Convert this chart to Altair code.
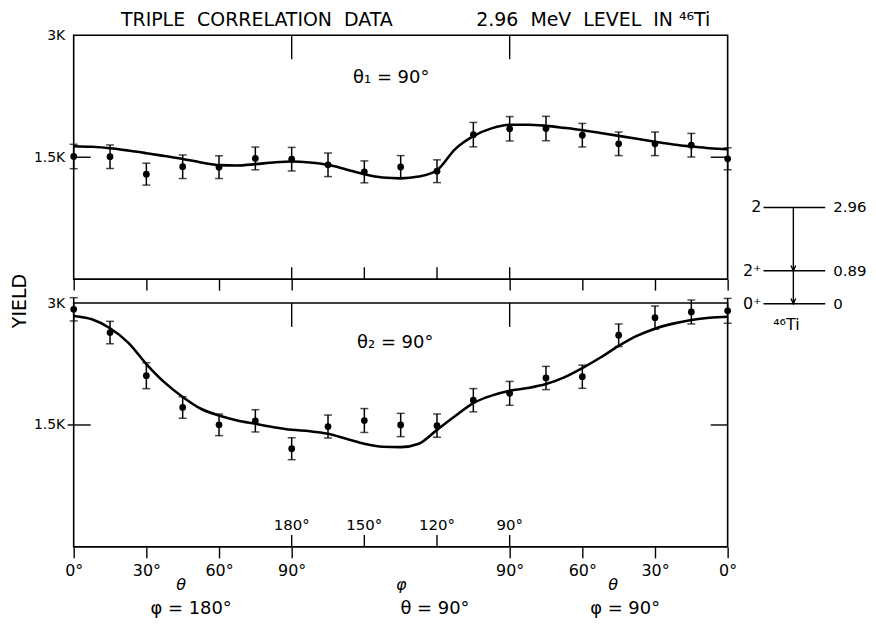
import altair as alt
import pandas as pd

FONT = "DejaVu Sans"

# ---------------- data ----------------
angles = [0, 15, 30, 45, 60, 75, 90, 105, 120, 135, 150, 165, 180, 195, 210, 225, 240, 255, 270]
top_yield = [1509, 1506, 1292, 1383, 1378, 1485, 1476, 1407, 1320, 1380, 1328, 1778, 1850, 1853, 1771, 1665, 1665, 1648, 1481]
top_err = [150, 145, 135, 145, 140, 140, 145, 145, 135, 140, 140, 150, 150, 150, 145, 145, 145, 145, 135]
bot_yield = [2923, 2637, 2106, 1716, 1502, 1551, 1208, 1481, 1555, 1500, 1492, 1805, 1889, 2078, 2094, 2604, 2820, 2890, 2904]
bot_err = [143, 138, 159, 133, 133, 137, 135, 141, 147, 143, 143, 143, 147, 143, 143, 139, 143, 147, 153]

curve_x = [0, 7.5, 15, 22.5, 30, 37.5, 45, 52.5, 60, 67.5, 75, 82.5, 90, 97.5, 105, 112.5,
           120, 127.5, 135, 142.5, 150, 157.5, 165, 172.5, 180, 187.5, 195, 202.5, 210,
           217.5, 225, 232.5, 240, 247.5, 255, 262.5, 270]
top_curve = [1636, 1628, 1611, 1583, 1550, 1515, 1479, 1436, 1403, 1399, 1415, 1436, 1448, 1436,
             1407, 1350, 1290, 1250, 1240, 1262, 1340, 1600, 1760, 1855, 1900, 1900, 1886, 1861,
             1833, 1798, 1763, 1727, 1690, 1656, 1632, 1611, 1599]
bot_curve = [2841, 2800, 2690, 2514, 2250, 2024, 1845, 1700, 1616, 1555, 1514, 1473, 1441, 1424,
             1392, 1331, 1270, 1232, 1228, 1270, 1440, 1610, 1770, 1861, 1922, 1955, 2004, 2086,
             2200, 2330, 2473, 2596, 2685, 2747, 2792, 2820, 2832]

theta_ticks = [0, 30, 60, 90, 180, 210, 240, 270]
phi_ticks = [90, 120, 150, 180]
phi_labels = ["180°", "150°", "120°", "90°"]
long_ticks = [90, 180]
yield_ticks = [1500, 3000]

level_spins = ["2", "2⁺", "0⁺"]
level_energies = ["2.96", "0.89", "0"]
nucleus = "⁴⁶Ti"

title_left = "TRIPLE\u00a0 CORRELATION\u00a0 DATA"
title_right = "2.96\u00a0 MeV\u00a0 LEVEL\u00a0 IN " + nucleus

# ---------------- layout ----------------
W, H = 657, 245
X_DOM = [0, 270]
Y_DOM = [0, 3000]
PX_X = (X_DOM[1] - X_DOM[0]) / W
PX_Y = (Y_DOM[1] - Y_DOM[0]) / H
LEFT, TOP_B, BOT_B = 73, 278, 547


def cx(px):
    return (px - LEFT) * PX_X


def yt(py):
    return (TOP_B - py) * PX_Y


def yb(py):
    return (BOT_B - py) * PX_Y


xs = alt.Scale(domain=X_DOM, nice=False, zero=False)
ys = alt.Scale(domain=Y_DOM, nice=False, zero=False)

Y_AXIS = alt.Axis(values=yield_ticks, ticks=False, domain=False, grid=False, title=None,
                  labelExpr="datum.value == 3000 ? '3K' : '1.5K'", labelPadding=9)


def make_x_axis(with_labels):
    kw = dict(values=theta_ticks, tickSize=11, tickWidth=1.4, tickColor="black",
              domain=False, grid=False, title=None)
    if with_labels:
        kw.update(labels=True, labelFlush=False, labelPadding=5,
                  labelExpr="(datum.value <= 90 ? datum.value : 270 - datum.value) + '°'")
    else:
        kw.update(labels=False)
    return alt.Axis(**kw)


def panel(yields, errs, curve, bottom, extra):
    ax = make_x_axis(bottom)

    def X(f):
        return alt.X(f, type="quantitative", scale=xs, axis=ax)

    def Y(f):
        return alt.Y(f, type="quantitative", scale=ys, axis=Y_AXIS)

    pts = pd.DataFrame({"x": angles, "y": yields,
                        "lo": [v - e for v, e in zip(yields, errs)],
                        "hi": [v + e for v, e in zip(yields, errs)]})
    crv = pd.DataFrame({"x": curve_x, "y": curve})

    layers = []
    layers.append(alt.Chart(crv).mark_line(color="black", strokeWidth=2.6, interpolate="monotone")
                  .encode(x=X("x"), y=Y("y")))
    layers.append(alt.Chart(pts).mark_rule(color="black", strokeWidth=1.5)
                  .encode(x=X("x"), y=Y("lo"), y2="hi"))
    for f in ["hi", "lo"]:
        layers.append(alt.Chart(pts).mark_tick(color="black", thickness=1.5, size=8, orient="horizontal")
                      .encode(x=X("x"), y=Y(f)))
    layers.append(alt.Chart(pts).mark_point(filled=True, color="black", size=46, opacity=1)
                  .encode(x=X("x"), y=Y("y")))

    # inward ticks at the phi positions (bottom edge) and long ticks at the top edge
    inner = pd.DataFrame({"x": phi_ticks, "a": [0] * len(phi_ticks), "b": [12 * PX_Y] * len(phi_ticks)})
    layers.append(alt.Chart(inner).mark_rule(color="black", strokeWidth=1.4)
                  .encode(x=X("x"), y=Y("a"), y2="b"))
    longt = pd.DataFrame({"x": long_ticks, "a": [Y_DOM[1]] * 2, "b": [Y_DOM[1] - 24 * PX_Y] * 2})
    layers.append(alt.Chart(longt).mark_rule(color="black", strokeWidth=1.4)
                  .encode(x=X("x"), y=Y("a"), y2="b"))
    # inward ticks at 1.5K on both sides
    yt_df = pd.DataFrame({"x": [-2.5 if bottom else 0, 263], "x2": [7, 270], "y": [1500, 1500]})
    layers.append(alt.Chart(yt_df).mark_rule(color="black", strokeWidth=1.4)
                  .encode(x=X("x"), x2="x2", y=Y("y")))

    def text_layer(df, size, **kw):
        return alt.Chart(df).mark_text(font=FONT, fontSize=size, color="black", **kw).encode(
            x=X("x"), y=Y("y"), text="t:N")

    for df, size, kw in extra:
        layers.append(text_layer(df, size, **kw))
    return layers


# ---------------- top panel ----------------
lvl_py = [206, 269.5, 302.7]

top_text = [
    (pd.DataFrame({"x": [cx(257), cx(595)], "y": [yt(18), yt(18)], "t": [title_left, title_right]}), 19, {}),
    (pd.DataFrame({"x": [cx(392)], "y": [yt(76)], "t": ["θ₁ = 90°"]}), 18, {}),
    (pd.DataFrame({"x": [cx(764)] * 3, "y": [yt(p) for p in lvl_py], "t": level_spins}), 16, {"align": "right"}),
    (pd.DataFrame({"x": [cx(836)] * 3, "y": [yt(p) for p in lvl_py], "t": level_energies}), 15, {"align": "left"}),
    (pd.DataFrame({"x": [cx(789)], "y": [yt(324)], "t": [nucleus]}), 16, {}),
]

top_layers = panel(top_yield, top_err, top_curve, False, top_text)

TX = alt.X("x", type="quantitative", scale=xs, axis=make_x_axis(False))
TY = alt.Y("y", type="quantitative", scale=ys, axis=Y_AXIS)

lvl = pd.DataFrame({"x": [cx(766)] * 3, "x2": [cx(828)] * 3, "y": [yt(p) for p in lvl_py]})
top_layers.append(alt.Chart(lvl).mark_rule(color="black", strokeWidth=1.4).encode(x=TX, x2="x2", y=TY))
arrow = pd.DataFrame({"x": [cx(796)] * 2, "y": [yt(lvl_py[0]), yt(lvl_py[1])],
                      "y2": [yt(lvl_py[1]), yt(lvl_py[2])]})
top_layers.append(alt.Chart(arrow).mark_rule(color="black", strokeWidth=1.4).encode(x=TX, y=TY, y2="y2"))
heads = pd.DataFrame({"x": [cx(796)] * 2, "y": [yt(lvl_py[1]), yt(lvl_py[2])]})
top_layers.append(alt.Chart(heads).mark_point(
    shape="M-0.45,-1L0,0L0.45,-1", filled=False, color="black", strokeWidth=1.4, size=110, opacity=1)
    .encode(x=TX, y=TY))

top = alt.layer(*top_layers).properties(width=W, height=H)

# ---------------- bottom panel ----------------
bot_text = [
    (pd.DataFrame({"x": [cx(396)], "y": [yb(342)], "t": ["θ₂ = 90°"]}), 18, {}),
    (pd.DataFrame({"x": phi_ticks, "y": [yb(525)] * 4, "t": phi_labels}), 15, {}),
    (pd.DataFrame({"x": [cx(181), cx(402), cx(615)], "y": [yb(585)] * 3, "t": ["θ", "φ", "θ"]}), 16,
     {"fontStyle": "italic"}),
    (pd.DataFrame({"x": [cx(191), cx(436), cx(627)], "y": [yb(609)] * 3,
                   "t": ["φ = 180°", "θ = 90°", "φ = 90°"]}), 18, {}),
    (pd.DataFrame({"x": [cx(19.5)], "y": [yb(300)], "t": ["YIELD"]}), 19, {"angle": 270}),
]

bottom = alt.layer(*panel(bot_yield, bot_err, bot_curve, True, bot_text)).properties(width=W, height=H)

chart = (
    alt.vconcat(top, bottom, spacing=24, bounds="flush")
    .properties(padding={"left": 2, "top": 1, "right": 0, "bottom": 0}, background="white")
    .configure(font=FONT)
    .configure_view(stroke="black", strokeWidth=1.6)
    .configure_axis(labelColor="black", labelFont=FONT)
    .configure_axisX(labelFontSize=16)
    .configure_axisY(labelFontSize=14)
)

chart.save("out.html", embed_options={"renderer": "svg", "actions": False})
